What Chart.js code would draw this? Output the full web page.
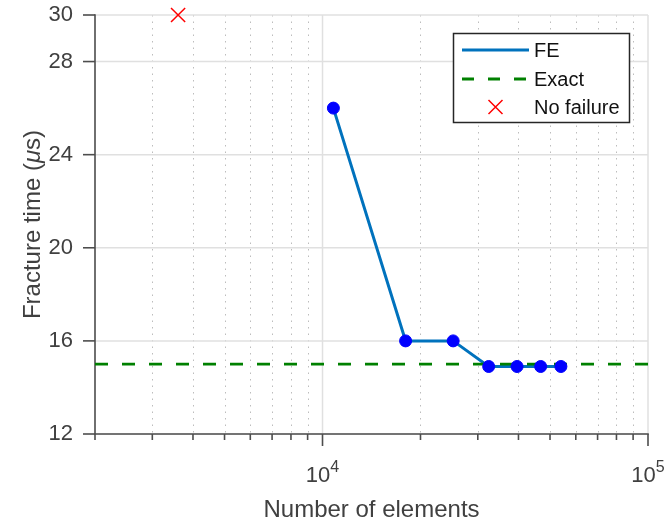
<!DOCTYPE html>
<html>
<head>
<meta charset="utf-8">
<script src="https://cdn.jsdelivr.net/npm/chart.js@4/dist/chart.umd.min.js"></script>
<style>
html, body { margin: 0; padding: 0; background: #ffffff; }
#wrap { width: 666px; height: 525px; position: relative; }
</style>
</head>
<body>
<div id="wrap"><canvas id="c" width="666" height="525"></canvas></div>
<script>
// ---- data ----
const feElements = [10800, 18000, 25200, 32400, 39600, 46800, 54000];
const feTime = [26, 16, 16, 14.9, 14.9, 14.9, 14.9];
const exactElements = [2000, 100000];
const exactTime = [15, 15];
const noFailElements = [3600];
const noFailTime = [30];

// ---- axes / ticks ----
const xLimits = [2000, 100000];
const yLimits = [12, 30];
const yTicks = [12, 16, 20, 24, 28, 30];
const xMajorTicks = [10000, 100000];
const xMajorExponents = ['4', '5'];
const xMinorTicks = [2000, 3000, 4000, 5000, 6000, 7000, 8000, 9000,
                     20000, 30000, 40000, 50000, 60000, 70000, 80000, 90000];
const xTitle = 'Number of elements';
const yTitleParts = ['Fracture time (', 'μ', 's)'];

const FONT = "'Liberation Sans', Arial, Helvetica, sans-serif";
const TEXT = '#404040';
const AXIS = '#4d4d4d';

const toXY = (xs, ys) => xs.map((v, i) => ({ x: v, y: ys[i] }));

const axesPlugin = {
  id: 'matlabAxes',
  beforeDatasetsDraw(chart) {
    const { ctx, chartArea: ca, scales } = chart;
    const x = scales.x, y = scales.y;
    ctx.save();
    // minor dotted grid
    ctx.strokeStyle = 'rgba(38,38,38,0.30)';
    ctx.lineWidth = 1;
    ctx.setLineDash([1.5, 5]);
    xMinorTicks.forEach(v => {
      if (v <= xLimits[0] || v >= xLimits[1]) return;
      const px = Math.round(x.getPixelForValue(v)) + 0.5;
      ctx.beginPath(); ctx.moveTo(px, ca.top); ctx.lineTo(px, ca.bottom); ctx.stroke();
    });
    // major solid grid
    ctx.setLineDash([]);
    ctx.strokeStyle = '#e0e0e0';
    ctx.lineWidth = 1.5;
    xMajorTicks.forEach(v => {
      const px = x.getPixelForValue(v);
      ctx.beginPath(); ctx.moveTo(px, ca.top); ctx.lineTo(px, ca.bottom); ctx.stroke();
    });
    yTicks.forEach(v => {
      const py = y.getPixelForValue(v);
      ctx.beginPath(); ctx.moveTo(ca.left, py); ctx.lineTo(ca.right, py); ctx.stroke();
    });
    // axis lines
    ctx.strokeStyle = AXIS;
    ctx.lineWidth = 1.6;
    ctx.beginPath();
    ctx.moveTo(ca.left, ca.top - 0.8); ctx.lineTo(ca.left, ca.bottom);
    ctx.lineTo(ca.right + 0.8, ca.bottom);
    ctx.stroke();
    // y ticks (outward)
    yTicks.forEach(v => {
      const py = y.getPixelForValue(v);
      ctx.beginPath(); ctx.moveTo(ca.left - 12, py); ctx.lineTo(ca.left, py); ctx.stroke();
    });
    // x ticks
    xMinorTicks.forEach(v => {
      const px = x.getPixelForValue(v);
      ctx.beginPath(); ctx.moveTo(px, ca.bottom); ctx.lineTo(px, ca.bottom + 6); ctx.stroke();
    });
    xMajorTicks.forEach(v => {
      const px = x.getPixelForValue(v);
      ctx.beginPath(); ctx.moveTo(px, ca.bottom); ctx.lineTo(px, ca.bottom + 12); ctx.stroke();
    });
    ctx.restore();
  },
  afterDraw(chart) {
    const { ctx, chartArea: ca, scales } = chart;
    const x = scales.x;
    ctx.save();
    ctx.fillStyle = TEXT;
    ctx.textBaseline = 'alphabetic';
    ctx.textAlign = 'left';
    // x tick labels 10^n
    xMajorTicks.forEach((v, i) => {
      const px = x.getPixelForValue(v);
      ctx.font = '22px ' + FONT;
      const w1 = ctx.measureText('10').width;
      ctx.font = '16px ' + FONT;
      const w2 = ctx.measureText(xMajorExponents[i]).width;
      const start = px - (w1 + w2) / 2;
      ctx.font = '22px ' + FONT;
      ctx.fillText('10', start, 482);
      ctx.font = '16px ' + FONT;
      ctx.fillText(xMajorExponents[i], start + w1, 472);
    });
    // x title
    ctx.font = '24px ' + FONT;
    ctx.textAlign = 'center';
    ctx.fillText(xTitle, (ca.left + ca.right) / 2, 517);
    // y title (rotated, italic mu)
    ctx.textAlign = 'left';
    const fonts = ['24px ' + FONT, 'italic 24px ' + FONT, '24px ' + FONT];
    let total = 0;
    const widths = yTitleParts.map((t, i) => { ctx.font = fonts[i]; const w = ctx.measureText(t).width; total += w; return w; });
    ctx.translate(40, (ca.top + ca.bottom) / 2);
    ctx.rotate(-Math.PI / 2);
    let cx = -total / 2;
    yTitleParts.forEach((t, i) => { ctx.font = fonts[i]; ctx.fillText(t, cx, 0); cx += widths[i]; });
    ctx.restore();

    // legend
    ctx.save();
    const lx = 453.5, ly = 33.5, lw = 176, lh = 89;
    ctx.fillStyle = '#ffffff';
    ctx.fillRect(lx, ly, lw, lh);
    ctx.strokeStyle = '#262626';
    ctx.lineWidth = 1.5;
    ctx.strokeRect(lx, ly, lw, lh);
    const rows = [50, 79, 107];
    const entries = chart.data.datasets.filter(d => d.legendRow !== undefined)
      .sort((a, b) => a.legendRow - b.legendRow);
    ctx.font = '20px ' + FONT;
    ctx.textBaseline = 'middle';
    entries.forEach((d, i) => {
      const ry = rows[i];
      if (d.legendKind === 'line') {
        ctx.strokeStyle = d.borderColor;
        ctx.lineWidth = d.borderWidth;
        ctx.setLineDash(d.borderDash ? [12, 14] : []);
        ctx.beginPath(); ctx.moveTo(462, ry); ctx.lineTo(529, ry); ctx.stroke();
        ctx.setLineDash([]);
      } else {
        ctx.strokeStyle = d.borderColor;
        ctx.lineWidth = 1.5;
        const cxm = 495.5, h = 7;
        ctx.beginPath();
        ctx.moveTo(cxm - h, ry - h); ctx.lineTo(cxm + h, ry + h);
        ctx.moveTo(cxm + h, ry - h); ctx.lineTo(cxm - h, ry + h);
        ctx.stroke();
      }
      ctx.fillStyle = '#111111';
      ctx.fillText(d.label, 534, ry + 1);
    });
    ctx.restore();
  }
};

new Chart(document.getElementById('c'), {
  type: 'line',
  data: {
    datasets: [
      { // FE markers (on top)
        label: 'FE markers',
        data: toXY(feElements, feTime),
        showLine: false,
        pointRadius: 6,
        pointBorderWidth: 1,
        pointBackgroundColor: '#0000ff',
        pointBorderColor: '#0000ff',
        order: 0
      },
      {
        label: 'Exact',
        data: toXY(exactElements, exactTime),
        borderColor: '#008000',
        borderWidth: 2.8,
        borderDash: [13, 14],
        pointRadius: 0,
        order: 1,
        legendRow: 1, legendKind: 'line'
      },
      {
        label: 'FE',
        data: toXY(feElements, feTime),
        borderColor: '#0072BD',
        borderWidth: 3,
        pointRadius: 0,
        tension: 0,
        order: 2,
        legendRow: 0, legendKind: 'line'
      },
      {
        label: 'No failure',
        data: toXY(noFailElements, noFailTime),
        showLine: false,
        pointStyle: 'crossRot',
        pointRadius: 10,
        pointBorderWidth: 1.5,
        pointBorderColor: '#ff0000',
        borderColor: '#ff0000',
        clip: false,
        order: 0,
        legendRow: 2, legendKind: 'marker'
      }
    ]
  },
  options: {
    responsive: false,
    animation: false,
    devicePixelRatio: 1,
    events: [],
    layout: { padding: { top: 15, right: 18, left: 0, bottom: 0 } },
    plugins: { legend: { display: false }, tooltip: { enabled: false } },
    scales: {
      x: {
        type: 'logarithmic',
        min: xLimits[0], max: xLimits[1],
        grid: { display: false, drawTicks: false },
        border: { display: false },
        ticks: { display: false },
        afterFit: s => { s.height = 91; s.paddingLeft = 0; s.paddingRight = 0; }
      },
      y: {
        type: 'linear',
        min: yLimits[0], max: yLimits[1],
        afterBuildTicks: s => { s.ticks = yTicks.map(v => ({ value: v })); },
        grid: { display: false, drawTicks: false },
        border: { display: false },
        ticks: {
          autoSkip: false,
          padding: 22,
          color: TEXT,
          font: { family: FONT, size: 22 },
          callback: v => String(v)
        },
        afterFit: s => { s.width = 95; s.paddingTop = 0; s.paddingBottom = 0; }
      }
    }
  },
  plugins: [axesPlugin]
});
</script>
</body>
</html>
